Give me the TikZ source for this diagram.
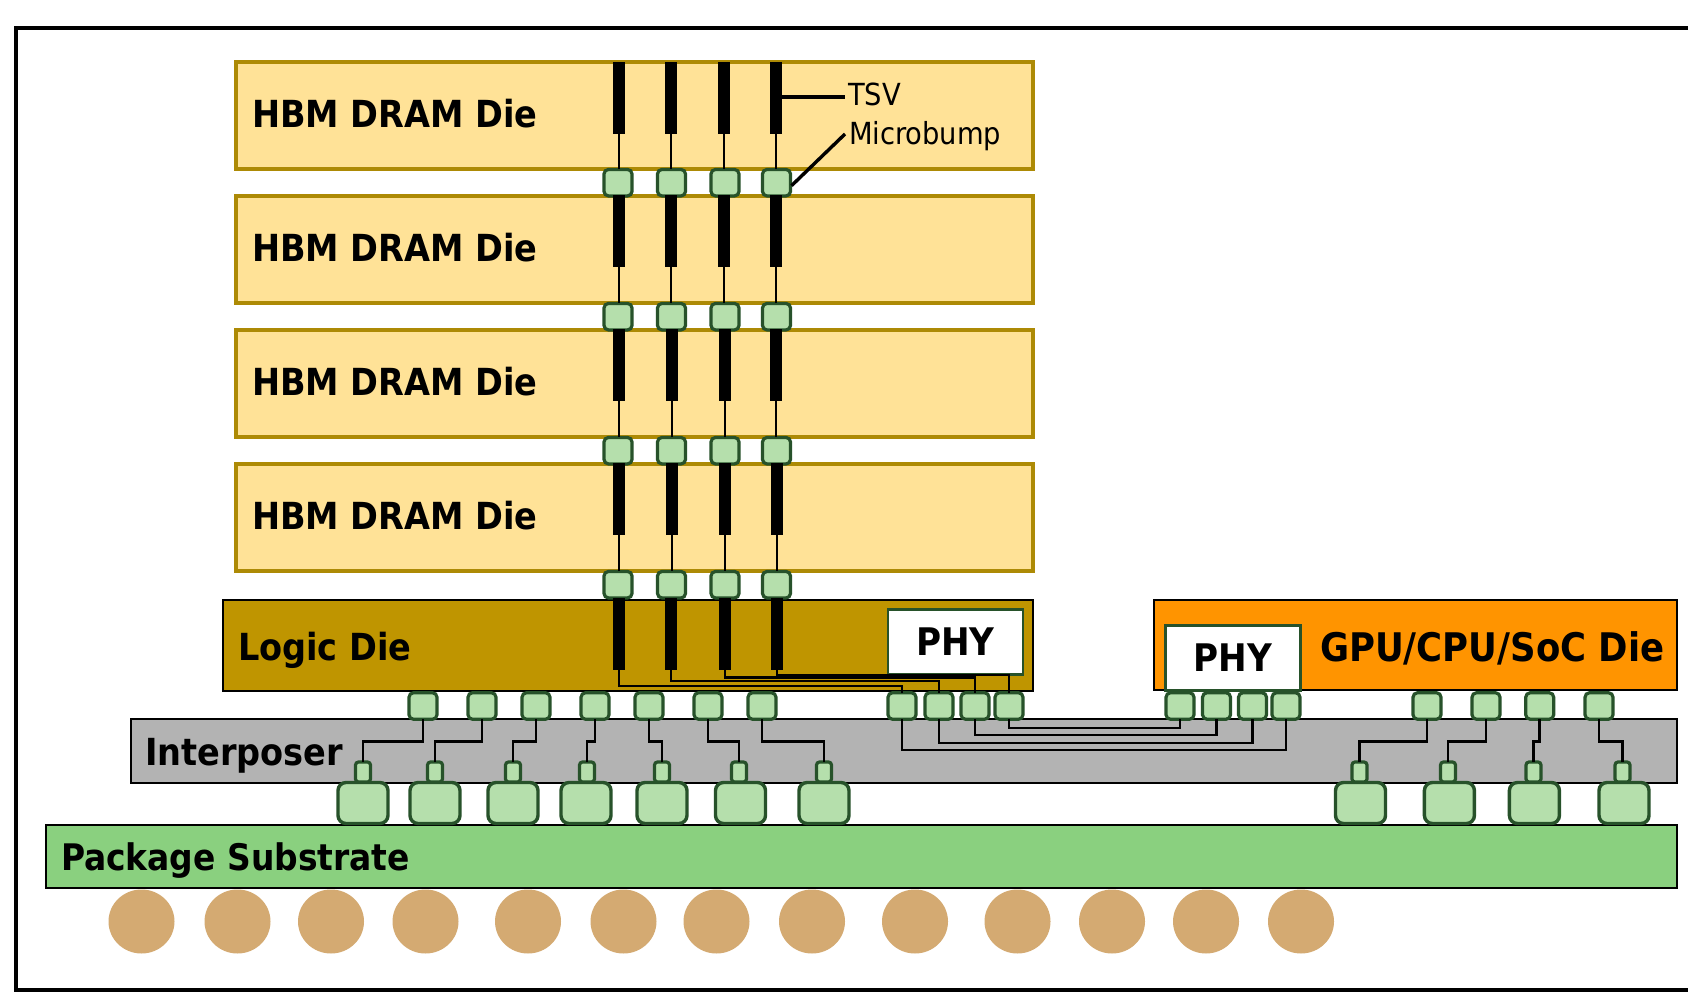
\documentclass[tikz,border=0pt]{standalone}
\usepackage{fontspec}
\setmainfont{DejaVu Sans Condensed}
\newfontfamily\diefont{DejaVu Sans Condensed Bold}
\usetikzlibrary{calc,shapes.geometric}
\definecolor{diefill}{HTML}{FFE297}
\definecolor{dieedge}{HTML}{AD8A05}
\definecolor{logicfill}{HTML}{BF9500}
\definecolor{gpufill}{HTML}{FF9400}
\definecolor{bumpfill}{HTML}{B5DFAC}
\definecolor{bumpedge}{HTML}{27522A}
\definecolor{interfill}{HTML}{B3B3B3}
\definecolor{subfill}{HTML}{8AD07F}
\definecolor{ballfill}{HTML}{D4AA72}
\tikzset{
  x=1pt,y=-1pt,
  box/.style={rectangle,inner sep=0pt,outer sep=0pt,anchor=north west},
  dramdie/.style={box,draw=dieedge,fill=diefill,line width=3.2pt,minimum width=797pt,minimum height=107pt},
  logicdie/.style={box,draw=black,fill=logicfill,line width=2.6pt,minimum width=810pt,minimum height=91pt},
  gpudie/.style={box,draw=black,fill=gpufill,line width=2.6pt,minimum width=523pt,minimum height=90pt},
  interposer/.style={box,draw=black,fill=interfill,line width=2.6pt,minimum width=1546pt,minimum height=64pt},
  substrate/.style={box,draw=black,fill=subfill,line width=2.6pt,minimum width=1631pt,minimum height=63pt},
  phybox/.style={rectangle,inner sep=0pt,outer sep=0pt,draw=bumpedge,fill=white,line width=2.4pt,minimum width=135pt,minimum height=65pt,font=\diefont\fontsize{38}{38}\selectfont,text=black},
  microbump/.style={rectangle,rounded corners=4.5pt,inner sep=0pt,outer sep=0pt,draw=bumpedge,fill=bumpfill,line width=3.2pt,minimum width=28pt,minimum height=26.5pt},
  smallbump/.style={rectangle,rounded corners=3pt,inner sep=0pt,outer sep=0pt,draw=bumpedge,fill=bumpfill,line width=3.2pt,minimum width=15pt,minimum height=20pt},
  bigbump/.style={rectangle,rounded corners=8pt,inner sep=0pt,outer sep=0pt,draw=bumpedge,fill=bumpfill,line width=3.4pt,minimum width=50pt,minimum height=41pt},
  tsv/.style={rectangle,inner sep=0pt,outer sep=0pt,fill=black,minimum width=12pt,minimum height=72pt},
  wire/.style={draw=black,line width=2.1pt},
  leader/.style={draw=black,line width=3.4pt},
  ball/.style={ellipse,inner sep=0pt,outer sep=0pt,fill=ballfill,minimum width=66pt,minimum height=64pt},
  dielabel/.style={inner sep=0pt,outer sep=0pt,anchor=west,font=\diefont\fontsize{37.3}{37.3}\selectfont,text=black},
  calllabel/.style={inner sep=0pt,outer sep=0pt,anchor=west,font=\fontsize{30.4}{30.4}\selectfont,text=black},
}
\begin{document}
\begin{tikzpicture}
\clip (0,0) rectangle (1688,1000);
\fill[white] (0,0) rectangle (1688,1000);
% frame
\coordinate (ftr) at (1700,28);
\coordinate (ftl) at (16,28);
\coordinate (fbl) at (16,990);
\coordinate (fbr) at (1700,990);
\draw[black,line width=3.2pt] (ftr) -- (ftl) -- (fbl) -- (fbr);
% substrate and interposer
\node[substrate] (sub) at (46,825) {};
\node[interposer] (int) at (131,719) {};
% dies
\node[dramdie] (d1) at (236,62) {};
\node[dramdie] (d2) at (236,196) {};
\node[dramdie] (d3) at (236,330) {};
\node[dramdie] (d4) at (236,464) {};
\node[logicdie] (logic) at (223,600) {};
\node[gpudie] (gpu) at (1154,600) {};
\node[phybox] (phy1) at (955.5,642) {\raisebox{-1pt}{PHY}};
\node[phybox] (phy2) at (1233,658) {\raisebox{-2pt}{PHY}};
% balls
\foreach \i/\x in {1/141.5,2/237.5,3/331,4/425.5,5/528,6/623.5,7/716.5,8/812,9/915,10/1017.5,11/1112,12/1206,13/1301}
  \node[ball] (ball\i) at (\x,921.5) {};
% die-stack microbumps
\foreach \r/\y in {1/182.7,2/316.7,3/450.7,4/584.7}
  \foreach \c/\x in {1/618,2/671.5,3/725,4/776.5}
    \node[microbump] (m\r\c) at (\x,\y) {};
% TSVs
\foreach \r/\y/\xa/\xb/\xc/\xd in {1/98/619/671/724/776,2/231/619/671/724/776,3/365/619/672/725/776,4/499/619/672/725/777,5/634/619/671/725/777}
  \foreach \c/\x in {1/\xa,2/\xb,3/\xc,4/\xd}
    \node[tsv] (t\r\c) at (\x,\y) {};
% TSV to bump stems
\foreach \r in {1,2,3,4}
  \foreach \c in {1,2,3,4}
    \draw[wire] (t\r\c.south) -- (t\r\c.south |- m\r\c.north);
% logic-to-interposer microbumps
\foreach \i/\x in {1/423,2/482,3/536,4/595,5/649,6/708,7/762,8/902,9/939,10/975,11/1009,12/1180,13/1216.5,14/1252.5,15/1286,16/1427,17/1486,18/1539.7,19/1599}
  \node[microbump] (c\i) at (\x,706) {};
% small and big bumps
\foreach \i/\xs/\xb in {1/363/363,2/435/435,3/513/513,4/587/586,5/662/662,6/739/740.5,7/824/824,16/1359.5/1360.5,17/1448/1449.4,18/1533.5/1534.4,19/1622.5/1624}{
  \node[bigbump] (big\i) at (\xb,803) {};
  \node[smallbump] (sm\i) at (\xs,772) {};
}
% logic die routing
\draw[wire] (t51.south) -- (t51.south |- 0,686) -| (c8.north);
\draw[wire] (t52.south) -- (t52.south |- 0,681) -| (c9.north);
\draw[wire] (t53.south) -- (t53.south |- 0,677.5) -| (c10.north);
\draw[wire] (t54.south) -- (t54.south |- 0,675) -| (c11.north);
% interposer routing
\foreach \i in {1,2,3,4,5,6,7,16,17,19}
  \draw[wire] (c\i.south) -- (c\i.south |- 0,741.5) -| (sm\i.north);
\draw[wire,line width=3pt] (c18.south) -- (c18.south |- 0,741.5) -| (sm18.north);
\draw[wire] (c11.south) -- (c11.south |- 0,727.7) -| (c12.south);
\draw[wire] (c10.south) -- (c10.south |- 0,735.3) -| (c13.south);
\draw[wire] (c9.south) -- (c9.south |- 0,742.7) -| (c14.south);
\draw[wire] (c8.south) -- (c8.south |- 0,750) -| (c15.south);
% labels
\node[dielabel] (l1) at (252,114) {HBM DRAM Die};
\node[dielabel] (l2) at (252,248) {HBM DRAM Die};
\node[dielabel] (l3) at (252,382) {HBM DRAM Die};
\node[dielabel] (l4) at (252,516) {HBM DRAM Die};
\node[dielabel] (llogic) at (238,650) {Logic Die};
\node[dielabel,font=\diefont\fontsize{39.4}{39.4}\selectfont] (lgpu) at (1320,648) {GPU/CPU/SoC Die};
\node[dielabel] (lint) at (145,756) {Interposer};
\node[dielabel,font=\diefont\fontsize{36.6}{36.6}\selectfont] (lsub) at (61,861) {Package Substrate};
\node[calllabel] (ltsv) at (848,94) {TSV};
\node[calllabel] (lmb) at (849,136) {Microbump};
\draw[leader] (t14.east |- ltsv.west) ++(0,3) -- ($(ltsv.west)+(-3,3)$);
\draw[leader] (m14.east) ++(1,3) -- ($(lmb.west)+(-4,-2)$);
\end{tikzpicture}
\end{document}
